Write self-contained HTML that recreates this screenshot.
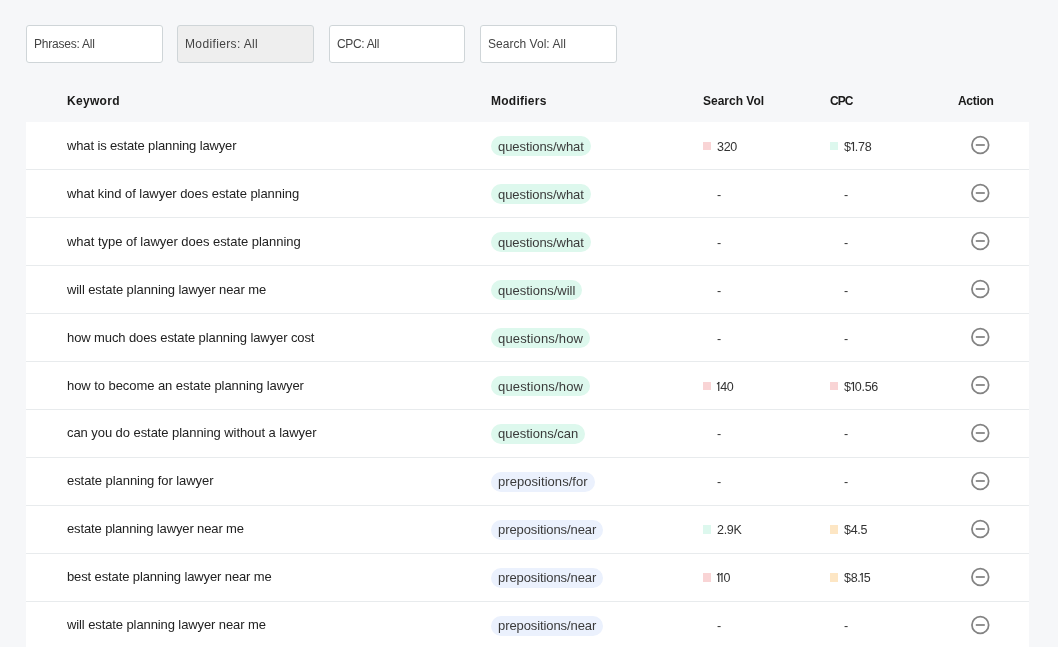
<!DOCTYPE html>
<html><head><meta charset="utf-8">
<style>
*{box-sizing:border-box;margin:0;padding:0}
html,body{width:1058px;height:647px;overflow:hidden;background:#f6f7f9;font-family:"Liberation Sans",sans-serif;}
.f,.hd,.tb{will-change:transform}
.f{position:absolute;top:25px;height:38px;border:1px solid #cfd5d8;border-radius:3px;background:#fff;font-size:12px;color:#444;line-height:36px;padding-left:7px;white-space:nowrap}
.f.g{background:#eeeeee}
.hd{position:absolute;top:93px;font-size:12px;font-weight:bold;color:#1a1a1a;line-height:16px;white-space:nowrap}
.tb{position:absolute;left:26px;top:122px;width:1003px;height:525px;background:#fff;overflow:hidden}
.r{position:relative;height:48px;border-bottom:1px solid #e8ebed}
.k{position:absolute;left:41px;top:0;line-height:47px;font-size:13px;color:#222;white-space:nowrap}
.p{position:absolute;left:465px;top:14px;height:20px;line-height:22px;border-radius:10px;padding:0 7px;font-size:13px;color:#3a3a3a;white-space:nowrap}
.q{background:#ddf8ed}
.pp{background:#ebf1fd}
.v{position:absolute;top:2px;line-height:47px;font-size:12.5px;color:#333;white-space:nowrap;letter-spacing:-0.3px}
.one{position:relative;font-size:0}
.one::before{content:"I";font-size:12.5px}
.one.d{margin-left:1px}
.one::after{content:"";position:absolute;left:-1.3px;top:-8.9px;width:2.8px;height:1.2px;background:#333;transform:rotate(-40deg);transform-origin:right top}
.sq{position:absolute;top:20px;width:8px;height:8px}
.red{background:#f9d4d5}
.grn{background:#ddf8ee}
.org{background:#fde6c4}
.ic{position:absolute;left:944px;top:13px;width:20px;height:20px}
.u .k{top:-1px}.u .p{line-height:20px}.u .v{top:1px}.u .sq{top:19px;height:9px}
</style></head><body>
<div class="f" style="left:26px;width:137px;letter-spacing:-0.22px">Phrases: All</div>
<div class="f g" style="left:177px;width:137px;letter-spacing:0.36px">Modifiers: All</div>
<div class="f" style="left:329px;width:136px;letter-spacing:-0.33px">CPC: All</div>
<div class="f" style="left:480px;width:137px;letter-spacing:0.03px">Search Vol: All</div>
<div class="hd" style="left:67px;letter-spacing:0.3px">Keyword</div>
<div class="hd" style="left:491px;letter-spacing:0.25px">Modifiers</div>
<div class="hd" style="left:703px">Search Vol</div>
<div class="hd" style="left:830px;letter-spacing:-1.0px">CPC</div>
<div class="hd" style="left:958px;letter-spacing:-0.3px">Action</div>
<div class="tb">
<div class="r"><div class="k" style="letter-spacing:-0.134px">what is estate planning lawyer</div><div class="p q" style="letter-spacing:-0.07px">questions/what</div><div class="sq red" style="left:677px"></div><div class="v" style="left:691px">320</div><div class="sq grn" style="left:804px"></div><div class="v" style="left:818px">$<span class="one d">1</span>.78</div><svg class="ic" viewBox="0 0 20 20"><circle cx="10.3" cy="10" r="8.35" fill="none" stroke="#838383" stroke-width="1.75"/><line x1="5.8" y1="10" x2="14.8" y2="10" stroke="#838383" stroke-width="1.75"/></svg></div>
<div class="r"><div class="k" style="letter-spacing:-0.05px">what kind of lawyer does estate planning</div><div class="p q" style="letter-spacing:-0.07px">questions/what</div><div class="v" style="left:691px">-</div><div class="v" style="left:818px">-</div><svg class="ic" viewBox="0 0 20 20"><circle cx="10.3" cy="10" r="8.35" fill="none" stroke="#838383" stroke-width="1.75"/><line x1="5.8" y1="10" x2="14.8" y2="10" stroke="#838383" stroke-width="1.75"/></svg></div>
<div class="r"><div class="k" style="letter-spacing:-0.03px">what type of lawyer does estate planning</div><div class="p q" style="letter-spacing:-0.07px">questions/what</div><div class="v" style="left:691px">-</div><div class="v" style="left:818px">-</div><svg class="ic" viewBox="0 0 20 20"><circle cx="10.3" cy="10" r="8.35" fill="none" stroke="#838383" stroke-width="1.75"/><line x1="5.8" y1="10" x2="14.8" y2="10" stroke="#838383" stroke-width="1.75"/></svg></div>
<div class="r"><div class="k" style="letter-spacing:-0.094px">will estate planning lawyer near me</div><div class="p q">questions/will</div><div class="v" style="left:691px">-</div><div class="v" style="left:818px">-</div><svg class="ic" viewBox="0 0 20 20"><circle cx="10.3" cy="10" r="8.35" fill="none" stroke="#838383" stroke-width="1.75"/><line x1="5.8" y1="10" x2="14.8" y2="10" stroke="#838383" stroke-width="1.75"/></svg></div>
<div class="r"><div class="k" style="letter-spacing:-0.1px">how much does estate planning lawyer cost</div><div class="p q" style="letter-spacing:0.15px">questions/how</div><div class="v" style="left:691px">-</div><div class="v" style="left:818px">-</div><svg class="ic" viewBox="0 0 20 20"><circle cx="10.3" cy="10" r="8.35" fill="none" stroke="#838383" stroke-width="1.75"/><line x1="5.8" y1="10" x2="14.8" y2="10" stroke="#838383" stroke-width="1.75"/></svg></div>
<div class="r"><div class="k" style="letter-spacing:-0.06px">how to become an estate planning lawyer</div><div class="p q" style="letter-spacing:0.15px">questions/how</div><div class="sq red" style="left:677px"></div><div class="v" style="left:691px"><span class="one">1</span>40</div><div class="sq red" style="left:804px"></div><div class="v" style="left:818px">$<span class="one d">1</span>0.56</div><svg class="ic" viewBox="0 0 20 20"><circle cx="10.3" cy="10" r="8.35" fill="none" stroke="#838383" stroke-width="1.75"/><line x1="5.8" y1="10" x2="14.8" y2="10" stroke="#838383" stroke-width="1.75"/></svg></div>
<div class="r u"><div class="k" style="letter-spacing:-0.065px">can you do estate planning without a lawyer</div><div class="p q">questions/can</div><div class="v" style="left:691px">-</div><div class="v" style="left:818px">-</div><svg class="ic" viewBox="0 0 20 20"><circle cx="10.3" cy="10" r="8.35" fill="none" stroke="#838383" stroke-width="1.75"/><line x1="5.8" y1="10" x2="14.8" y2="10" stroke="#838383" stroke-width="1.75"/></svg></div>
<div class="r u"><div class="k" style="letter-spacing:-0.064px">estate planning for lawyer</div><div class="p pp" style="letter-spacing:0.05px">prepositions/for</div><div class="v" style="left:691px">-</div><div class="v" style="left:818px">-</div><svg class="ic" viewBox="0 0 20 20"><circle cx="10.3" cy="10" r="8.35" fill="none" stroke="#838383" stroke-width="1.75"/><line x1="5.8" y1="10" x2="14.8" y2="10" stroke="#838383" stroke-width="1.75"/></svg></div>
<div class="r u"><div class="k" style="letter-spacing:-0.125px">estate planning lawyer near me</div><div class="p pp" style="letter-spacing:-0.09px">prepositions/near</div><div class="sq grn" style="left:677px"></div><div class="v" style="left:691px">2.9K</div><div class="sq org" style="left:804px"></div><div class="v" style="left:818px">$4.5</div><svg class="ic" viewBox="0 0 20 20"><circle cx="10.3" cy="10" r="8.35" fill="none" stroke="#838383" stroke-width="1.75"/><line x1="5.8" y1="10" x2="14.8" y2="10" stroke="#838383" stroke-width="1.75"/></svg></div>
<div class="r u"><div class="k" style="letter-spacing:-0.12px">best estate planning lawyer near me</div><div class="p pp" style="letter-spacing:-0.09px">prepositions/near</div><div class="sq red" style="left:677px"></div><div class="v" style="left:691px"><span class="one">1</span><span class="one">1</span>0</div><div class="sq org" style="left:804px"></div><div class="v" style="left:818px">$8.<span class="one">1</span>5</div><svg class="ic" viewBox="0 0 20 20"><circle cx="10.3" cy="10" r="8.35" fill="none" stroke="#838383" stroke-width="1.75"/><line x1="5.8" y1="10" x2="14.8" y2="10" stroke="#838383" stroke-width="1.75"/></svg></div>
<div class="r u"><div class="k" style="letter-spacing:-0.1px">will estate planning lawyer near me</div><div class="p pp" style="letter-spacing:-0.09px">prepositions/near</div><div class="v" style="left:691px">-</div><div class="v" style="left:818px">-</div><svg class="ic" viewBox="0 0 20 20"><circle cx="10.3" cy="10" r="8.35" fill="none" stroke="#838383" stroke-width="1.75"/><line x1="5.8" y1="10" x2="14.8" y2="10" stroke="#838383" stroke-width="1.75"/></svg></div>
</div>
</body></html>
